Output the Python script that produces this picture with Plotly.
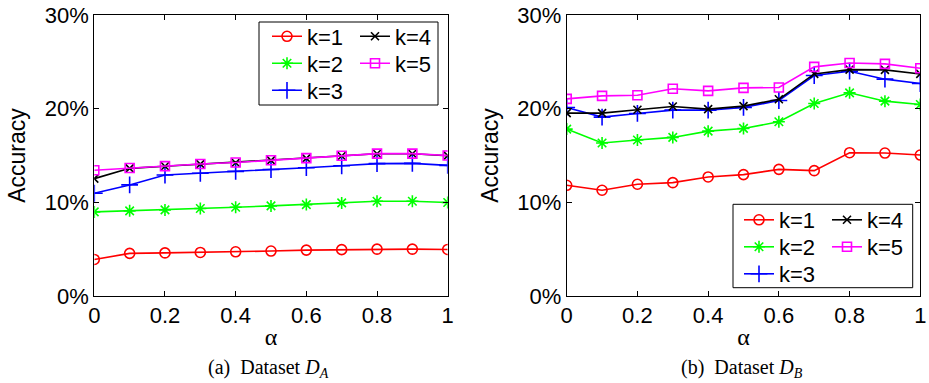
import plotly.graph_objects as go

# alpha values shared by both panels
alpha = [0.0, 0.1, 0.2, 0.3, 0.4, 0.5, 0.6, 0.7, 0.8, 0.9, 1.0]

# Dataset D_A accuracy (%) for k = 1..5
a_k1 = [3.9, 4.55, 4.6, 4.65, 4.72, 4.8, 4.9, 4.95, 5.0, 5.0, 4.97]
a_k2 = [8.98, 9.09, 9.19, 9.34, 9.48, 9.62, 9.76, 9.94, 10.12, 10.12, 9.98]
a_k3 = [10.97, 11.86, 12.92, 13.1, 13.3, 13.5, 13.7, 13.9, 14.13, 14.16, 13.95]
a_k4 = [12.53, 13.63, 13.85, 14.08, 14.23, 14.48, 14.7, 14.95, 15.19, 15.19, 14.98]
a_k5 = [13.42, 13.67, 13.87, 14.1, 14.25, 14.5, 14.72, 14.97, 15.2, 15.2, 15.0]

# Dataset D_B accuracy (%) for k = 1..5
b_k1 = [11.82, 11.29, 11.93, 12.1, 12.71, 12.96, 13.52, 13.38, 15.3, 15.26, 15.05]
b_k2 = [17.82, 16.33, 16.65, 16.93, 17.6, 17.89, 18.6, 20.55, 21.69, 20.8, 20.45]
b_k3 = [20.13, 19.1, 19.49, 19.84, 19.84, 20.13, 20.87, 23.54, 24.0, 23.15, 22.68]
b_k4 = [19.52, 19.52, 19.88, 20.23, 19.95, 20.27, 21.0, 23.71, 24.17, 24.14, 23.71]
b_k5 = [21.05, 21.37, 21.44, 22.12, 21.9, 22.22, 22.26, 24.46, 24.88, 24.78, 24.32]

series_names = ["k=1", "k=2", "k=3", "k=4", "k=5"]
x_ticks = [0, 0.2, 0.4, 0.6, 0.8, 1]
y_ticks = [0, 10, 20, 30]
y_tick_labels = ["0%", "10%", "20%", "30%"]
captions = ["(a)  Dataset <i>D<sub>A</sub></i>", "(b)  Dataset <i>D<sub>B</sub></i>"]

styles = [
    dict(color="#FF0000", symbol="circle-open", size=10),
    dict(color="#00FF00", symbol="asterisk-open", size=10),
    dict(color="#0000FF", symbol="cross-thin-open", size=12),
    dict(color="#000000", symbol="x-thin-open", size=8),
    dict(color="#FF00FF", symbol="square-open", size=9),
]

FONT = "Liberation Sans, Arial, Helvetica, sans-serif"
SERIF = "Liberation Serif, Times New Roman, serif"
W, H = 929, 383

fig = go.Figure()

# legend rows: (k=1, k=4), (k=2, k=5), (k=3)
row_of = [0, 1, 2, 0, 1]
panels = [
    ([a_k1, a_k2, a_k3, a_k4, a_k5], "x", "y", ["legend", "legend2", "legend3"]),
    ([b_k1, b_k2, b_k3, b_k4, b_k5], "x2", "y2", ["legend4", "legend5", "legend6"]),
]

for data, xa, ya, legs in panels:
    for i, (name, vals, st) in enumerate(zip(series_names, data, styles)):
        fig.add_trace(go.Scatter(
            x=alpha, y=vals, name=name, mode="lines+markers",
            xaxis=xa, yaxis=ya, legend=legs[row_of[i]],
            line=dict(color=st["color"], width=1.6),
            marker=dict(symbol=st["symbol"], size=st["size"], color=st["color"],
                        line=dict(color=st["color"], width=1.6)),
        ))

dom_y = [1 - 296 / H, 1 - 15 / H]
dom_x1 = [94.3 / W, 447.7 / W]
dom_x2 = [566.7 / W, 920.3 / W]

axis_common = dict(
    showline=True, linecolor="black", linewidth=1, mirror="ticks",
    ticks="inside", ticklen=5, tickcolor="black", tickwidth=1,
    showgrid=False, zeroline=False,
    tickfont=dict(family=FONT, size=22, color="black"),
)

xaxis_cfg = dict(axis_common, range=[0, 1], tickvals=x_ticks,
                 title=dict(text="α", font=dict(family=SERIF, size=24, color="black"),
                            standoff=0))
yaxis_cfg = dict(axis_common, range=[0, 30], tickvals=y_ticks, ticktext=y_tick_labels,
                 title=dict(text="Accuracy", font=dict(family=FONT, size=23, color="black"),
                            standoff=12))

legend_common = dict(
    bgcolor="rgba(0,0,0,0)", borderwidth=0,
    font=dict(family=FONT, size=22, color="black"),
    xanchor="left", yanchor="middle", orientation="h",
    entrywidth=43, entrywidthmode="pixels",
    itemclick=False, itemdoubleclick=False,
)

rows_a = [36.5, 63.5, 90.5]
rows_b = [220, 247, 274]
leg_x_a = 267
leg_x_b = 739

layout_legends = {}
for j, yy in enumerate(rows_a):
    key = "legend" if j == 0 else f"legend{j + 1}"
    layout_legends[key] = dict(legend_common, x=leg_x_a / W, y=1 - yy / H)
for j, yy in enumerate(rows_b):
    layout_legends[f"legend{j + 4}"] = dict(legend_common, x=leg_x_b / W, y=1 - yy / H)

fig.update_layout(
    width=W, height=H, template="none",
    paper_bgcolor="white", plot_bgcolor="white",
    margin=dict(l=0, r=0, t=0, b=0),
    xaxis=dict(xaxis_cfg, domain=dom_x1, anchor="y"),
    yaxis=dict(yaxis_cfg, domain=dom_y, anchor="x"),
    xaxis2=dict(xaxis_cfg, domain=dom_x2, anchor="y2"),
    yaxis2=dict(yaxis_cfg, domain=dom_y, anchor="x2"),
    shapes=[
        dict(type="rect", xref="paper", yref="paper", layer="above",
             x0=259 / W, x1=438 / W, y0=1 - 105 / H, y1=1 - 22 / H,
             line=dict(color="black", width=1), fillcolor="white"),
        dict(type="rect", xref="paper", yref="paper", layer="above",
             x0=733 / W, x1=912.7 / W, y0=1 - 287.7 / H, y1=1 - 204.3 / H,
             line=dict(color="black", width=1), fillcolor="white"),
    ],
    annotations=[
        dict(text=captions[0], xref="paper", yref="paper", x=268 / W, y=1 - 368 / H,
             xanchor="center", yanchor="middle", showarrow=False,
             font=dict(family=SERIF, size=20, color="black")),
        dict(text=captions[1], xref="paper", yref="paper", x=742 / W, y=1 - 368 / H,
             xanchor="center", yanchor="middle", showarrow=False,
             font=dict(family=SERIF, size=20, color="black")),
    ],
    **layout_legends,
)

fig.write_html("out.html")
